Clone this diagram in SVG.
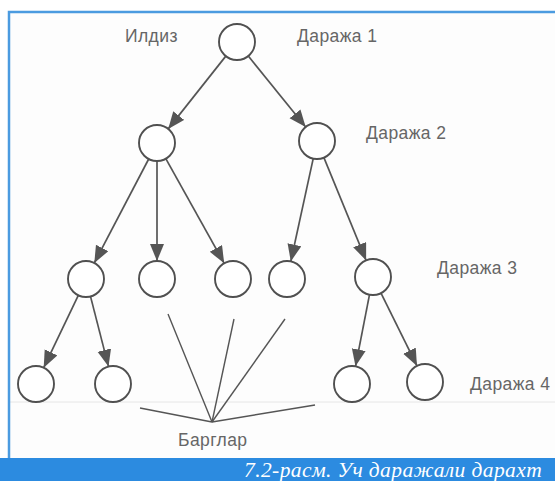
<svg xmlns="http://www.w3.org/2000/svg" width="555" height="481" viewBox="0 0 555 481">
<defs>
<style>
.node circle{fill:#fff;stroke:#505050;stroke-width:1.9}
.edge{stroke:#555;stroke-width:1.7;fill:none}
.leaf{stroke:#555;stroke-width:1.4;fill:none}
.lbl{font-family:"Liberation Sans",Arial,sans-serif;font-size:17.5px;letter-spacing:0.4px;fill:#666}
.cap{font-family:"Liberation Serif","Times New Roman",serif;font-style:italic;font-size:21.5px;letter-spacing:0.4px;fill:#fff}
</style>
<marker id="ah" markerUnits="userSpaceOnUse" markerWidth="18" markerHeight="16" refX="17" refY="7" orient="auto">
<path d="M0,0 L17,7 L0,14 z" fill="#555"/>
</marker>
</defs>
<rect x="0" y="0" width="555" height="481" fill="#fff"/>
<rect x="9" y="12" width="546" height="446" fill="#fdfdfd"/>
<line x1="9" y1="402" x2="555" y2="402" stroke="#e6e6e6" stroke-width="1"/>
<path d="M9,458 L9,12 L555,12" fill="none" stroke="#4b9be0" stroke-width="2.5"/>
<rect x="0" y="458" width="555" height="23" fill="#2c8be0"/>
<text class="cap" x="244" y="477">7.2-расм. Уч даражали дарахт</text>

<g id="connectors">
<line class="edge" x1="225.8" y1="56.1" x2="168.2" y2="128.9" marker-end="url(#ah)"/>
<line class="edge" x1="248.3" y1="56" x2="305.7" y2="127" marker-end="url(#ah)"/>
<line class="edge" x1="148.7" y1="159" x2="94.3" y2="263" marker-end="url(#ah)"/>
<line class="edge" x1="157" y1="161" x2="157" y2="261" marker-end="url(#ah)"/>
<line class="edge" x1="165.8" y1="158.7" x2="224.2" y2="263.3" marker-end="url(#ah)"/>
<line class="edge" x1="313.2" y1="158.6" x2="290.8" y2="261.4" marker-end="url(#ah)"/>
<line class="edge" x1="323.9" y1="157.6" x2="366.1" y2="260.4" marker-end="url(#ah)"/>
<line class="edge" x1="78.3" y1="295.3" x2="43.7" y2="367.7" marker-end="url(#ah)"/>
<line class="edge" x1="90.5" y1="296.4" x2="108.5" y2="366.6" marker-end="url(#ah)"/>
<line class="edge" x1="369.5" y1="294.7" x2="355.5" y2="366.3" marker-end="url(#ah)"/>
<line class="edge" x1="381" y1="293.1" x2="417" y2="365.9" marker-end="url(#ah)"/>
<g id="leaf-pointers">
<line class="leaf" x1="212" y1="422" x2="140" y2="408"/>
<line class="leaf" x1="212" y1="422" x2="168" y2="314"/>
<line class="leaf" x1="212" y1="422" x2="234" y2="319"/>
<line class="leaf" x1="212" y1="422" x2="285" y2="319"/>
<line class="leaf" x1="212" y1="422" x2="315" y2="405"/>
</g>
</g>

<g id="root" class="node"><circle cx="237" cy="42" r="18"/></g>
<g id="n2a" class="node"><circle cx="157" cy="143" r="18"/></g>
<g id="n2b" class="node"><circle cx="317" cy="141" r="18"/></g>
<g id="n3a" class="node"><circle cx="86" cy="279" r="18"/></g>
<g id="n3b" class="node"><circle cx="157" cy="279" r="18"/></g>
<g id="n3c" class="node"><circle cx="233" cy="279" r="18"/></g>
<g id="n3d" class="node"><circle cx="287" cy="279" r="18"/></g>
<g id="n3e" class="node"><circle cx="373" cy="277" r="18"/></g>
<g id="n4a" class="node"><circle cx="36" cy="384" r="18"/></g>
<g id="n4b" class="node"><circle cx="113" cy="384" r="18"/></g>
<g id="n4c" class="node"><circle cx="352" cy="384" r="18"/></g>
<g id="n4d" class="node"><circle cx="425" cy="382" r="18"/></g>

<g id="labels">
<text class="lbl" x="125" y="42">Илдиз</text>
<text class="lbl" x="297" y="42">Даража 1</text>
<text class="lbl" x="366" y="139">Даража 2</text>
<text class="lbl" x="437" y="274">Даража 3</text>
<text class="lbl" x="470" y="390">Даража 4</text>
<text class="lbl" x="178" y="446">Барглар</text>
</g>
</svg>
